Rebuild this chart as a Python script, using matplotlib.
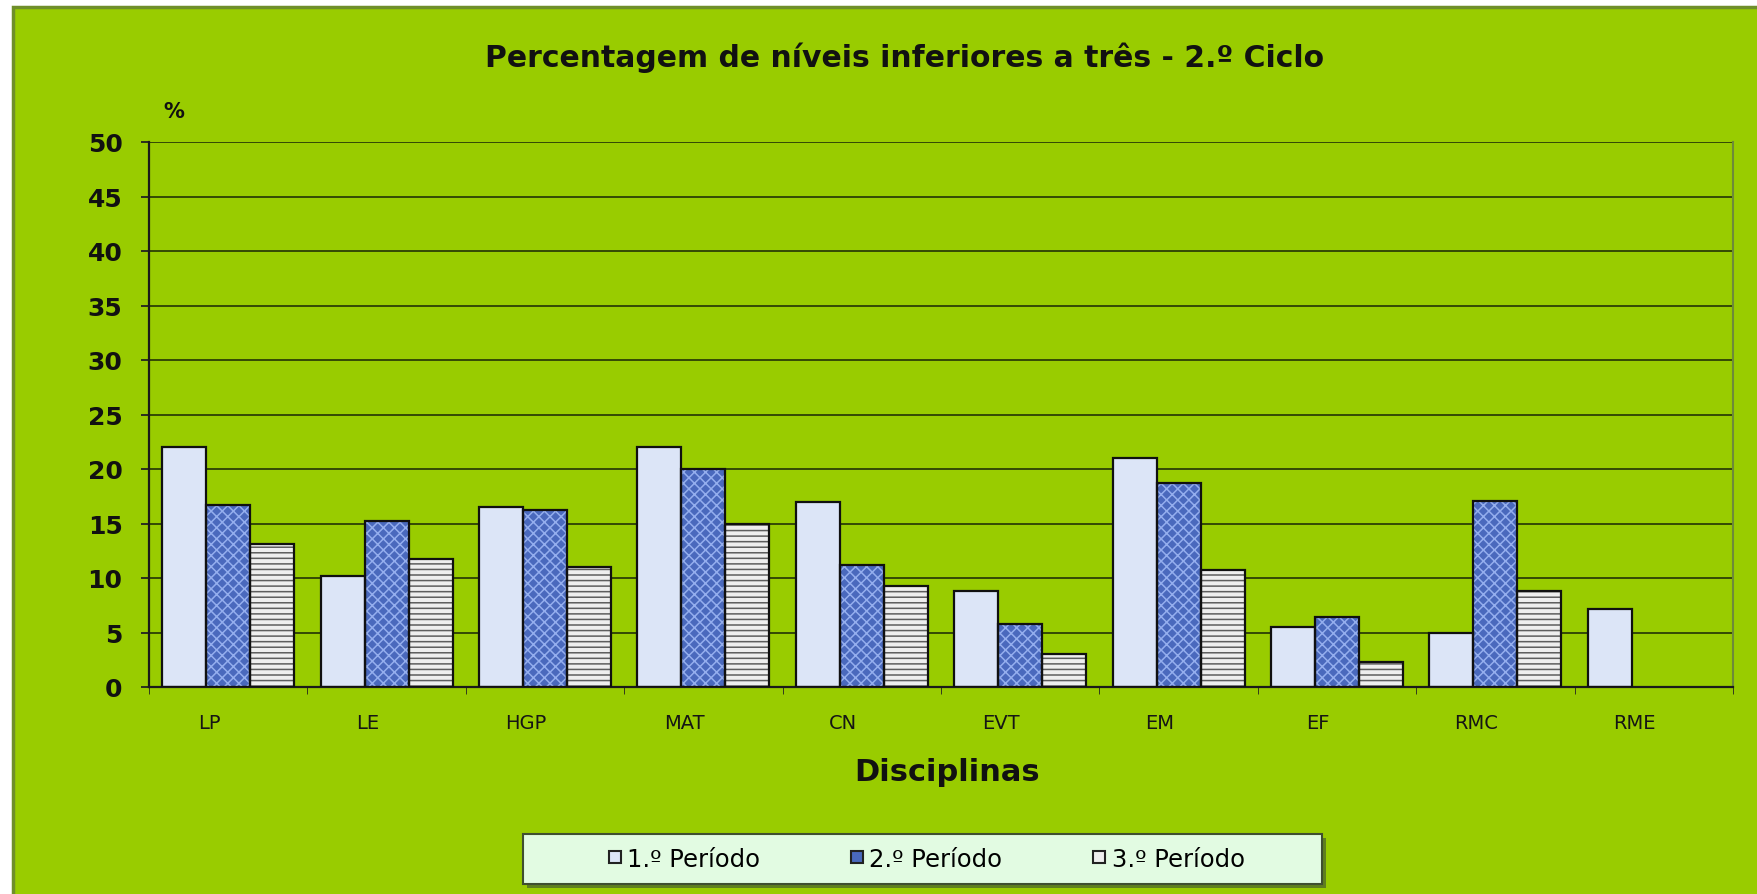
import numpy as np
import matplotlib
matplotlib.use("Agg")
import matplotlib.pyplot as plt
import matplotlib.transforms as mtransforms
from matplotlib.patches import Rectangle
from matplotlib.lines import Line2D

plt.rcParams["font.family"] = ["DejaVu Sans"]
plt.rcParams["hatch.linewidth"] = 1.1

# data (% of levels below three)
disciplinas = ["LP", "LE", "HGP", "MAT", "CN", "EVT", "EM", "EF", "RMC", "RME"]
periodo_1 = [22.0, 10.2, 16.5, 22.0, 17.0, 8.8, 21.0, 5.5, 5.0, 7.2]
periodo_2 = [16.7, 15.2, 16.2, 20.0, 11.2, 5.8, 18.7, 6.4, 17.1, np.nan]
periodo_3 = [13.1, 11.7, 11.0, 15.0, 9.3, 3.0, 10.7, 2.3, 8.8, np.nan]
series_names = ["1.º Período", "2.º Período", "3.º Período"]
y_ticks = [0, 5, 10, 15, 20, 25, 30, 35, 40, 45, 50]

BG = "#99cc00"
GRID = "#2c3f05"

# (face, hatch, hatch colour)
styles = [
    ("#dce5f7", "", "#dce5f7"),
    ("#4a69bd", "xxx", "#94aeee"),
    ("#eeeeee", "---", "#5e5e5e"),
]

fig = plt.figure(figsize=(17.57, 8.95), dpi=100)
fig.patch.set_facecolor("white")

# green chart panel
panel = Rectangle((13 / 1757, -0.05), 1.1, 1 - 8 / 895 + 0.05,
                  transform=fig.transFigure, facecolor=BG,
                  edgecolor="#6f8f2a", linewidth=2.5, zorder=-10)
fig.patches.append(panel)

ax = fig.add_axes([149 / 1757, 1 - 688 / 895, (1733 - 149) / 1757, (688 - 143) / 895])
ax.set_zorder(2)
ax.set_facecolor(BG)

x = np.arange(len(disciplinas))
w = 1 / 3.6
for i, vals in enumerate([periodo_1, periodo_2, periodo_3]):
    face, hatch, hcol = styles[i]
    pos = x + (i - 1) * w
    ax.bar(pos, vals, w, color=face, zorder=2, linewidth=0)
    if hatch:
        ax.bar(pos, vals, w, fill=False, hatch=hatch, edgecolor=hcol,
               linewidth=0, zorder=3)
    ax.bar(pos, vals, w, fill=False, edgecolor="#101010", linewidth=1.6, zorder=4)

ax.set_xlim(-0.5, len(disciplinas) - 0.5)
ax.set_ylim(0, 50)
ax.set_yticks(y_ticks)
ax.set_yticklabels([str(v) for v in y_ticks], fontsize=18, fontweight="bold",
                   color="#111111")
ax.set_xticks(x)
ax.set_xticklabels(disciplinas, fontsize=14, color="#151515")
ax.set_xticks(np.arange(len(disciplinas) + 1) - 0.5, minor=True)
ax.tick_params(axis="x", which="major", length=0, pad=19)
ax.tick_params(axis="x", which="minor", length=5, direction="out", color="#222222")
ax.tick_params(axis="y", length=6, width=1.3, direction="out", pad=13, color="#222222")

# category labels sit a little left of the group centres in the original
shift = mtransforms.ScaledTranslation(-0.19, 0, fig.dpi_scale_trans)
for lab in ax.get_xticklabels():
    lab.set_transform(lab.get_transform() + shift)

ax.yaxis.grid(True, color=GRID, linewidth=1.3, zorder=1)
ax.set_axisbelow(True)
for s in ["left", "bottom"]:
    ax.spines[s].set_color("#1a1a1a")
    ax.spines[s].set_linewidth(1.6)
ax.spines["top"].set_visible(False)
ax.spines["right"].set_color("#6d8a3a")
ax.spines["right"].set_linewidth(1.5)

fig.text(905 / 1757, 1 - 58 / 895, "Percentagem de níveis inferiores a três - 2.º Ciclo",
         ha="center", va="center", fontsize=21.5, fontweight="bold", color="#111111")
fig.text(174 / 1757, 1 - 112 / 895, "%", ha="center", va="center",
         fontsize=15, fontweight="bold", color="#111111")
fig.text(947 / 1757, 1 - 773 / 895, "Disciplinas", ha="center", va="center",
         fontsize=22, fontweight="bold", color="#111111")

# legend box with shadow
lx0, ly0, lw, lh = 523 / 1757, 1 - 885 / 895, 799 / 1757, 50 / 895
fig.patches.append(Rectangle((lx0 + 4 / 1757, ly0 - 4 / 895), lw, lh,
                             transform=fig.transFigure, facecolor="#5f7f1f",
                             edgecolor="none", zorder=1))
fig.patches.append(Rectangle((lx0, ly0), lw, lh, transform=fig.transFigure,
                             facecolor="#e2fbe2", edgecolor="#3f4f2f",
                             linewidth=1.5, zorder=2))
handles = [Line2D([], [], marker="s", linestyle="none", markersize=9,
                  markerfacecolor=styles[i][0], markeredgecolor="#222222",
                  markeredgewidth=1.5) for i in range(3)]
leg = fig.legend(handles, series_names, loc="center", ncol=3,
                 bbox_to_anchor=(926 / 1757, 1 - 860 / 895), frameon=False,
                 fontsize=17.5, handlelength=0.6, handletextpad=0.2,
                 columnspacing=3.7)
leg.set_zorder(5)

fig.savefig("out.png", dpi=100, facecolor=fig.get_facecolor())
plt.close(fig)
